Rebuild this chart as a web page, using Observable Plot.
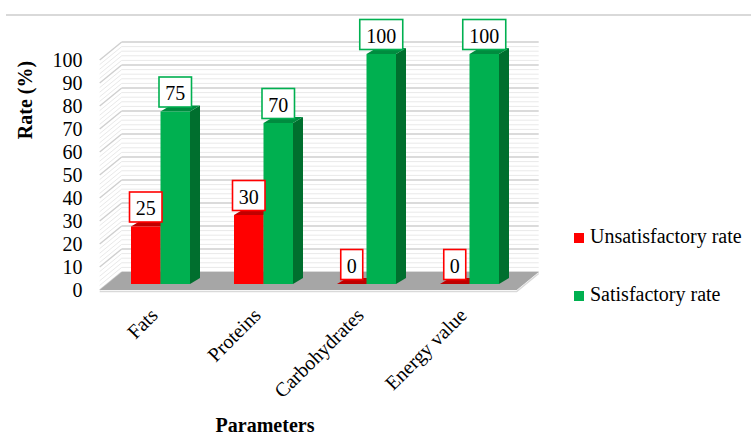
<!DOCTYPE html>
<html><head><meta charset="utf-8">
<script src="https://cdn.jsdelivr.net/npm/d3@7"></script>
<script src="https://cdn.jsdelivr.net/npm/@observablehq/plot@0.6"></script>
<style>
body{margin:0;background:#fff;}
#wrap{position:relative;width:751px;height:438px;overflow:hidden;font-family:'Liberation Serif','Times New Roman',Times,serif;color:#000;}
#topline{position:absolute;left:6px;top:14px;width:745px;height:2px;background:#d9d9d9;}
.ttl{position:absolute;font-family:'Liberation Serif','Times New Roman',Times,serif;font-weight:bold;font-size:20px;white-space:nowrap;line-height:1;}
#ytitle{left:25px;top:100px;transform:translate(-50%,-50%) rotate(-90deg);}
#xtitle{left:265px;top:415px;transform:translateX(-50%);}
.leg{position:absolute;left:574px;font-family:'Liberation Serif','Times New Roman',Times,serif;font-size:20px;white-space:nowrap;line-height:1;}
.leg i{display:inline-block;width:10px;height:10px;margin-right:6px;vertical-align:0px;}
</style></head><body>
<div id="wrap"><div id="topline"></div></div>
<script>
const categories = ["Fats", "Proteins", "Carbohydrates", "Energy value"];
const seriesNames = ["Unsatisfactory rate", "Satisfactory rate"];
const unsatisfactory = [25, 30, 0, 0];
const satisfactory = [75, 70, 100, 100];
const yTicks = [0, 10, 20, 30, 40, 50, 60, 70, 80, 90, 100];
const gridStep = 2;

const palette = {
  "Unsatisfactory rate": {front: "#ff0000", top: "#c00000", side: "#a80000", stroke: "#ff0000"},
  "Satisfactory rate": {front: "#00b050", top: "#008c3f", side: "#006f2e", stroke: "#00b050"}
};

const rows = categories.flatMap((c, i) => [
  {category: c, series: seriesNames[0], value: unsatisfactory[i], s: 0},
  {category: c, series: seriesNames[1], value: satisfactory[i], s: 1}
]);

const FRONT = [-7.3, 6], BACK = [14.7, -12], BAR_DEPTH = [10, -6];
const SERIF = "'Liberation Serif','Times New Roman',Times,serif";

function pts(a) { return a.map(p => p[0].toFixed(2) + "," + p[1].toFixed(2)).join(" "); }

function scene(index, scales, values, dimensions) {
  const x = scales.x, y = scales.y;
  const bw = x.bandwidth ? x.bandwidth() : scales.scales.x.bandwidth;
  const x0 = dimensions.marginLeft, x1 = dimensions.width - dimensions.marginRight;
  const g = d3.create("svg:g");
  const y0 = y(0), yTop = y(100);
  g.append("polygon").attr("points", pts([[x0+BACK[0], yTop+BACK[1]],[x1+BACK[0], yTop+BACK[1]],[x1+BACK[0], y0+BACK[1]],[x0+BACK[0], y0+BACK[1]]])).attr("fill", "#fff");
  for (let v = 0; v <= 100; v += gridStep) {
    const major = v % 10 === 0;
    const yy = y(v);
    const col = major ? "#cfcfcf" : "#e9e9e9";
    const sw = major ? 1.4 : 1;
    g.append("line").attr("x1", x0+BACK[0]).attr("x2", x1+BACK[0]).attr("y1", yy+BACK[1]).attr("y2", yy+BACK[1]).attr("stroke", col).attr("stroke-width", sw);
    g.append("line").attr("x1", x0+FRONT[0]).attr("y1", yy+FRONT[1]).attr("x2", x0+BACK[0]).attr("y2", yy+BACK[1]).attr("stroke", col).attr("stroke-width", sw);
  }
  g.append("polygon").attr("points", pts([[x0+FRONT[0], y0+FRONT[1]],[x1+FRONT[0], y0+FRONT[1]],[x1+BACK[0], y0+BACK[1]],[x0+BACK[0], y0+BACK[1]]])).attr("fill", "#a6a6a6");
  g.append("polyline").attr("points", pts([[x0+FRONT[0], y0+FRONT[1]+1.5],[x1+FRONT[0], y0+FRONT[1]+1.5],[x1+BACK[0], y0+BACK[1]+1.5]])).attr("fill", "none").attr("stroke", "#d9d9d9").attr("stroke-width", 1.5);
  const half = bw / 2;
  const [ddx, ddy] = BAR_DEPTH;
  for (const r of rows) {
    const c = palette[r.series];
    const xl = x(r.category) + r.s * half, xr = xl + half;
    const yt = y(r.value), yb = y(0);
    g.append("polygon").attr("points", pts([[xr, yt],[xr+ddx, yt+ddy],[xr+ddx, yb+ddy],[xr, yb]])).attr("fill", c.side);
    g.append("polygon").attr("points", pts([[xl, yt],[xl+ddx, yt+ddy],[xr+ddx, yt+ddy],[xr, yt]])).attr("fill", c.top);
    if (yb - yt > 0) g.append("rect").attr("x", xl).attr("y", yt).attr("width", half).attr("height", yb - yt).attr("fill", c.front);
  }
  for (const r of rows) {
    const c = palette[r.series];
    const xl = x(r.category) + r.s * half;
    const cx = xl + half / 2;
    const yt = y(r.value);
    const txt = String(r.value);
    const w = 11.5 + 10.5 * txt.length, h = 30;
    const by = yt - 4.5 - h;
    g.append("rect").attr("x", cx - w/2).attr("y", by).attr("width", w).attr("height", h).attr("fill", "#fff").attr("stroke", c.stroke).attr("stroke-width", 1.6);
    g.append("text").attr("x", cx).attr("y", by + h - 7).attr("text-anchor", "middle").attr("font-size", 20).attr("font-family", SERIF).attr("fill", "#000").text(txt);
  }
  return g.node();
}

const chart = Plot.plot({
  width: 751,
  height: 438,
  marginLeft: 107,
  marginRight: 227,
  marginTop: 54,
  marginBottom: 154,
  style: {fontFamily: SERIF, background: "transparent", overflow: "visible"},
  x: {type: "band", domain: categories, paddingInner: 0.423, paddingOuter: 0.221, axis: null},
  y: {domain: [0, 100], axis: null},
  marks: [
    scene,
    Plot.axisY({ticks: yTicks, tickSize: 0, tickPadding: 25, dy: 6, fontSize: 20, fontFamily: SERIF, label: null, tickFormat: d => String(d)}),
    Plot.text(categories, {x: d => d, text: d => d, frameAnchor: "bottom", rotate: -45, textAnchor: "end", lineAnchor: "top", dx: -12, dy: 22, fontSize: 20, fontFamily: SERIF, fill: "#000"})
  ]
});

const wrap = document.getElementById("wrap");
chart.style.position = "absolute";
chart.style.left = "0";
chart.style.top = "0";
wrap.appendChild(chart);

const yt = document.createElement("div"); yt.className = "ttl"; yt.id = "ytitle"; yt.textContent = "Rate (%)"; wrap.appendChild(yt);
const xt = document.createElement("div"); xt.className = "ttl"; xt.id = "xtitle"; xt.textContent = "Parameters"; wrap.appendChild(xt);
const legTops = [226, 284];
seriesNames.forEach((s, i) => {
  const d = document.createElement("div");
  d.className = "leg";
  d.style.top = legTops[i] + "px";
  const sw = document.createElement("i");
  sw.style.background = palette[s].front;
  d.appendChild(sw);
  d.appendChild(document.createTextNode(s));
  wrap.appendChild(d);
});
</script>
</body></html>
